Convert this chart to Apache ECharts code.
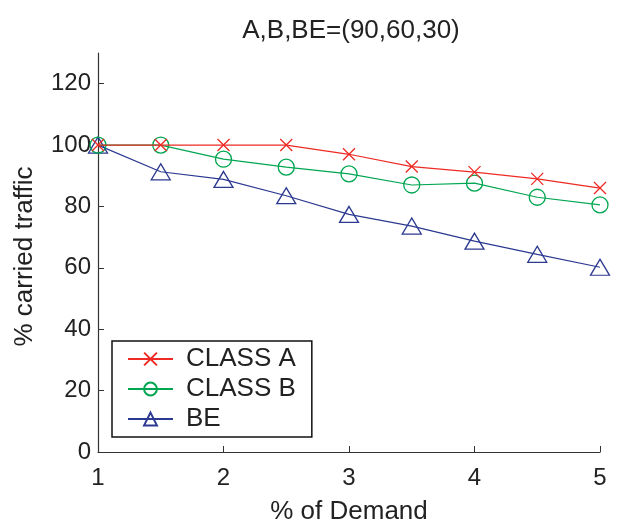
<!DOCTYPE html>
<html><head><meta charset="utf-8">
<script src="https://cdn.jsdelivr.net/npm/echarts@6/dist/echarts.min.js"></script>
<style>html,body{margin:0;padding:0;background:#fff}#c{width:621px;height:523px}</style>
</head><body><div id="c"></div>
<script>
const demand = [1, 1.5, 2, 2.5, 3, 3.5, 4, 4.5, 5];
const classA = [100, 100, 100, 100, 97, 93, 91.2, 89, 86];
const classB = [100, 100, 95.4, 92.8, 90.6, 87, 87.6, 83, 80.5];
const be = [100, 91.3, 88.8, 83.5, 77.4, 73.6, 68.7, 64.4, 60.2];
const xTicks = [1, 2, 3, 4, 5];
const yTicks = [0, 20, 40, 60, 80, 100, 120];
const names = ['CLASS A', 'CLASS B', 'BE'];
const colors = ['#ee2a24', '#00a651', '#2b3990'];
const symbols = ['path://M0,0L10,10M10,0L0,10', 'circle', 'triangle'];
const sizes = [12, 16, [19, 16]];
const vals = [classA, classB, be];
const font = 'Liberation Sans, Arial, sans-serif';
const chart = echarts.init(document.getElementById('c'));
chart.setOption({
  animation: false,
  title: { text: 'A,B,BE=(90,60,30)', left: 346, textAlign: 'center', top: 13,
    textStyle: { fontFamily: font, fontSize: 26, fontWeight: 'normal', color: '#222' } },
  grid: { left: 98, right: 21, top: 53, bottom: 71, containLabel: false, outerBoundsMode: 'none' },
  legend: {
    orient: 'vertical', left: 112, top: 341, data: names,
    borderColor: '#111', borderWidth: 1.5, padding: [5, 16, 5, 15],
    itemWidth: 45, itemHeight: 16, itemGap: 4,
    textStyle: { fontFamily: font, fontSize: 26, color: '#222', padding: [0, 0, 0, 8] }
  },
  xAxis: {
    type: 'value', min: 1, max: 5, interval: 1,
    name: '% of Demand', nameLocation: 'middle', nameGap: 47,
    nameTextStyle: { fontFamily: font, fontSize: 26, color: '#222' },
    axisLine: { lineStyle: { color: '#333', width: 1.2 } },
    axisTick: { inside: true, length: 6, lineStyle: { color: '#333' }, customValues: xTicks },
    axisLabel: { fontFamily: font, fontSize: 24, color: '#222', margin: 14, customValues: xTicks },
    splitLine: { show: false }
  },
  yAxis: {
    type: 'value', min: 0, max: 130,
    name: '% carried traffic', nameLocation: 'middle', nameGap: 60,
    nameTextStyle: { fontFamily: font, fontSize: 26, color: '#222', padding: [0, 8, 0, 0] },
    axisLine: { show: true, lineStyle: { color: '#333', width: 1.2 } },
    axisTick: { show: true, inside: true, length: 6, lineStyle: { color: '#333' }, customValues: yTicks },
    axisLabel: { fontFamily: font, fontSize: 24, color: '#222', margin: 7, customValues: yTicks },
    splitLine: { show: false }
  },
  series: names.map((n, i) => ({
    name: n, type: 'line',
    data: demand.map((d, j) => [d, vals[i][j]]),
    symbol: symbols[i], symbolSize: sizes[i],
    lineStyle: { color: colors[i], width: 1.2 },
    itemStyle: { color: 'rgba(0,0,0,0)', borderColor: colors[i], borderWidth: 1.3 },
    z: 3 - i
  }))
});
</script></body></html>
